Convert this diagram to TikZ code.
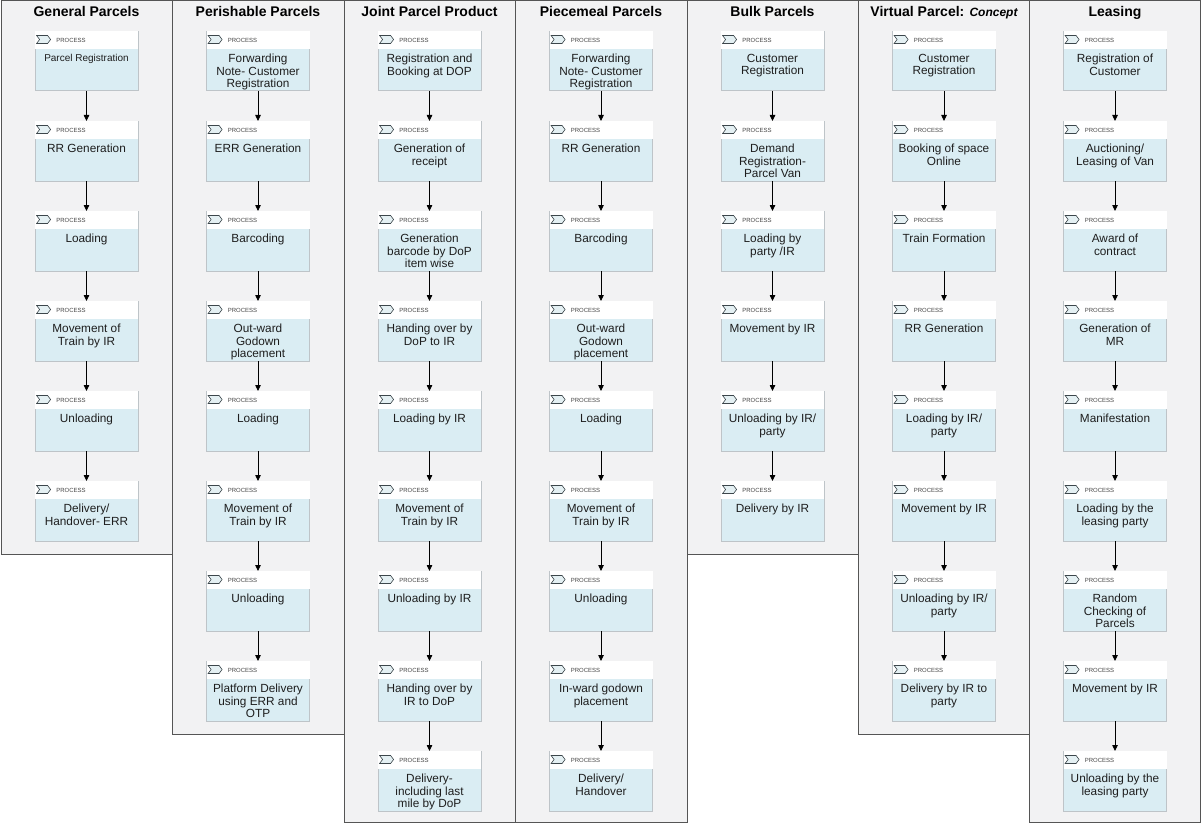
\documentclass[tikz,border=0pt]{standalone}
\usepackage{fontspec}
\setmainfont{Liberation Sans}
\usetikzlibrary{arrows.meta}
\definecolor{lanebg}{RGB}{242,242,243}
\definecolor{laneline}{RGB}{85,85,85}
\definecolor{boxfill}{RGB}{218,237,243}
\definecolor{boxline}{RGB}{190,196,200}
\definecolor{iconfill}{RGB}{228,240,243}
\definecolor{icondraw}{RGB}{60,70,75}
\definecolor{labelgray}{RGB}{70,70,70}
\definecolor{textdark}{RGB}{30,30,30}
\tikzset{
 lanebox/.style={draw=laneline, fill=lanebg, line width=1pt},
 lanetitle/.style={font=\fontsize{14}{16}\selectfont\bfseries, anchor=base, inner sep=0},
 pbody/.style={draw=boxline, fill=boxfill, line width=0.8pt, minimum width=103pt, minimum height=59.5pt, inner sep=0, anchor=north},
 picon/.style={draw=icondraw, fill=iconfill, line width=0.6pt, line join=miter},
 plabel/.style={font=\fontsize{6}{7}\selectfont, text=labelgray, anchor=west, inner sep=0},
 ptext/.style={font=\fontsize{11.8}{12.5}\selectfont, align=center, anchor=north, inner sep=0, text=textdark},
 arr/.style={-{Triangle[length=6pt,width=5.5pt]}, line width=0.8pt, black},
}
\newcommand\procbox[5][]{%
 \pgfmathsetmacro\ptop{31+90*(#4-1)}%
 \node[pbody] (#2) at (#3,\ptop) {};
 \fill[white] ([shift={(0.4pt,-0.4pt)}]#2.north west) rectangle ([shift={(-0.4pt,-18pt)}]#2.north east);
 \draw[picon] ([shift={(2pt,-4.5pt)}]#2.north west) -- ++(11,0) -- ++(3,4) -- ++(-3,4) -- ++(-11,0) -- ++(3,-4) -- cycle;
 \node[plabel] (#2l) at ([shift={(21.5pt,-9pt)}]#2.north west) {PROCESS};
 \node[ptext,#1] (#2t) at ([yshift=-23pt]#2.north) {#5};
}
\begin{document}
\begin{tikzpicture}[x=1pt,y=-1pt]
\useasboundingbox (0,0) rectangle (1202,824);
\fill[white] (0,0) rectangle (1202,824);
% lanes
\draw[lanebox] (1,0.5) rectangle (172,554);
\draw[lanebox] (172,0.5) rectangle (344,734);
\draw[lanebox] (344,0.5) rectangle (515,822);
\draw[lanebox] (515,0.5) rectangle (687,822);
\draw[lanebox] (687,0.5) rectangle (858,554);
\draw[lanebox] (858,0.5) rectangle (1029,734);
\draw[lanebox] (1029,0.5) rectangle (1200,822);
% titles
\node[lanetitle] (t1) at (86.5,17) {General Parcels};
\node[lanetitle] (t2) at (258,17) {Perishable Parcels};
\node[lanetitle] (t3) at (429.5,17) {Joint Parcel Product};
\node[lanetitle] (t4) at (601,17) {Piecemeal Parcels};
\node[lanetitle] (t5) at (772.5,17) {Bulk Parcels};
\node[lanetitle] (t6) at (944,17) {Virtual Parcel: {\itshape\fontsize{12}{14}\selectfont Concept}};
\node[lanetitle] (t7) at (1115,17) {Leasing};
% column 1
\procbox[font=\fontsize{10}{12}\selectfont]{a1}{86.5}{1}{Parcel Registration}
\procbox{a2}{86.5}{2}{RR Generation}
\procbox{a3}{86.5}{3}{Loading}
\procbox{a4}{86.5}{4}{Movement of\\Train by IR}
\procbox{a5}{86.5}{5}{Unloading}
\procbox{a6}{86.5}{6}{Delivery/\\Handover- ERR}
% column 2
\procbox{b1}{258}{1}{Forwarding\\Note- Customer\\Registration}
\procbox{b2}{258}{2}{ERR Generation}
\procbox{b3}{258}{3}{Barcoding}
\procbox{b4}{258}{4}{Out-ward\\Godown\\placement}
\procbox{b5}{258}{5}{Loading}
\procbox{b6}{258}{6}{Movement of\\Train by IR}
\procbox{b7}{258}{7}{Unloading}
\procbox{b8}{258}{8}{Platform Delivery\\using ERR and\\OTP}
% column 3
\procbox{c1}{429.5}{1}{Registration and\\Booking at DOP}
\procbox{c2}{429.5}{2}{Generation of\\receipt}
\procbox{c3}{429.5}{3}{Generation\\barcode by DoP\\item wise}
\procbox{c4}{429.5}{4}{Handing over by\\DoP to IR}
\procbox{c5}{429.5}{5}{Loading by IR}
\procbox{c6}{429.5}{6}{Movement of\\Train by IR}
\procbox{c7}{429.5}{7}{Unloading by IR}
\procbox{c8}{429.5}{8}{Handing over by\\IR to DoP}
\procbox{c9}{429.5}{9}{Delivery-\\including last\\mile by DoP}
% column 4
\procbox{d1}{601}{1}{Forwarding\\Note- Customer\\Registration}
\procbox{d2}{601}{2}{RR Generation}
\procbox{d3}{601}{3}{Barcoding}
\procbox{d4}{601}{4}{Out-ward\\Godown\\placement}
\procbox{d5}{601}{5}{Loading}
\procbox{d6}{601}{6}{Movement of\\Train by IR}
\procbox{d7}{601}{7}{Unloading}
\procbox{d8}{601}{8}{In-ward godown\\placement}
\procbox{d9}{601}{9}{Delivery/\\Handover}
% column 5
\procbox{e1}{772.5}{1}{Customer\\Registration}
\procbox{e2}{772.5}{2}{Demand\\Registration-\\Parcel Van}
\procbox{e3}{772.5}{3}{Loading by\\party /IR}
\procbox{e4}{772.5}{4}{Movement by IR}
\procbox{e5}{772.5}{5}{Unloading by IR/\\party}
\procbox{e6}{772.5}{6}{Delivery by IR}
% column 6
\procbox{f1}{944}{1}{Customer\\Registration}
\procbox{f2}{944}{2}{Booking of space\\Online}
\procbox{f3}{944}{3}{Train Formation}
\procbox{f4}{944}{4}{RR Generation}
\procbox{f5}{944}{5}{Loading by IR/\\party}
\procbox{f6}{944}{6}{Movement by IR}
\procbox{f7}{944}{7}{Unloading by IR/\\party}
\procbox{f8}{944}{8}{Delivery by IR to\\party}
% column 7
\procbox{g1}{1115}{1}{Registration of\\Customer}
\procbox{g2}{1115}{2}{Auctioning/\\Leasing of Van}
\procbox{g3}{1115}{3}{Award of\\contract}
\procbox{g4}{1115}{4}{Generation of\\MR}
\procbox{g5}{1115}{5}{Manifestation}
\procbox{g6}{1115}{6}{Loading by the\\leasing party}
\procbox{g7}{1115}{7}{Random\\Checking of\\Parcels}
\procbox{g8}{1115}{8}{Movement by IR}
\procbox{g9}{1115}{9}{Unloading by the\\leasing party}
% arrows
\foreach \i [evaluate=\i as \j using int(\i+1)] in {1,...,5} \draw[arr] (a\i.south) -- (a\j.north);
\foreach \i [evaluate=\i as \j using int(\i+1)] in {1,...,7} \draw[arr] (b\i.south) -- (b\j.north);
\foreach \i [evaluate=\i as \j using int(\i+1)] in {1,...,8} \draw[arr] (c\i.south) -- (c\j.north);
\foreach \i [evaluate=\i as \j using int(\i+1)] in {1,...,8} \draw[arr] (d\i.south) -- (d\j.north);
\foreach \i [evaluate=\i as \j using int(\i+1)] in {1,...,5} \draw[arr] (e\i.south) -- (e\j.north);
\foreach \i [evaluate=\i as \j using int(\i+1)] in {1,...,7} \draw[arr] (f\i.south) -- (f\j.north);
\foreach \i [evaluate=\i as \j using int(\i+1)] in {1,...,8} \draw[arr] (g\i.south) -- (g\j.north);
\end{tikzpicture}
\end{document}
